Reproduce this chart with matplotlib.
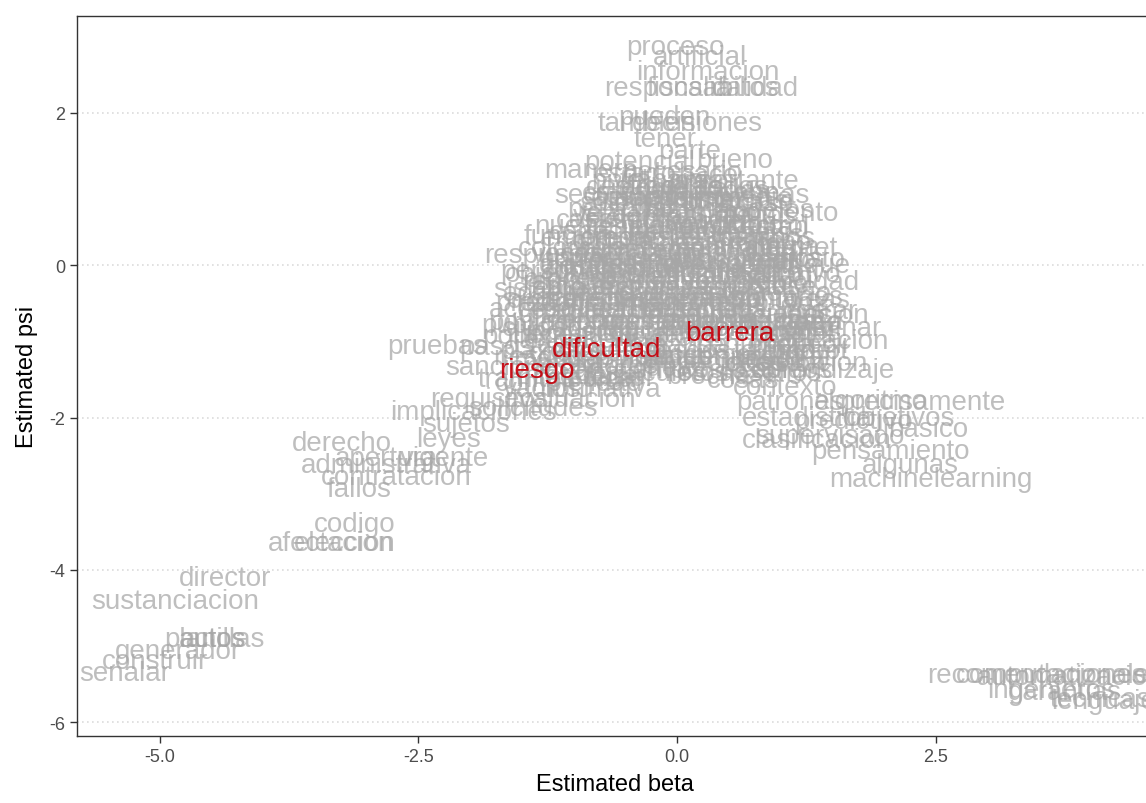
import numpy as np
import matplotlib
matplotlib.use("Agg")
import matplotlib.pyplot as plt

#------------------------------------------------------------------------------
# Palabras sobre el pico (psi alto)
top_words = ["proceso", "artificial", "informacion", "responsabilidad",
             "fiscalia", "datos", "tambien", "pueden", "decisiones", "tener",
             "parte", "potencial", "bueno", "manera", "estado", "importante",
             "necesario", "hace", "trabajo"]
top_beta = [-0.02, 0.22, 0.30, 0.23, 0.12, 0.66, -0.29, -0.12, 0.20, -0.12,
            0.12, -0.36, 0.56, -0.83, -0.40, 0.54, 0.05, 0.30, -0.15]
top_psi = [2.86, 2.73, 2.54, 2.32, 2.32, 2.32, 1.86, 1.95, 1.86, 1.65,
           1.50, 1.36, 1.38, 1.25, 1.20, 1.11, 1.22, 1.18, 1.12]

# Nucleo superior
upper_words = ["gestion", "gobierno", "entidades", "sector", "tiempo",
               "hacer", "forma", "sistemas", "temas", "personal", "uso",
               "publica", "mejor", "modelos", "casos", "ejemplo",
               "tecnologia", "servicios", "control", "conocimiento", "manejo",
               "herramientas", "analisis", "funcion", "cultura", "capacidad",
               "desarrollo", "equipo"]
upper_beta = [-0.45, -0.02, 0.32, -0.82, -0.40, -0.08, 0.22, 0.55, 0.92,
              -0.55, -0.22, 0.10, 0.45, 0.82, -0.82, -0.42, 0.05, 0.45, 0.88,
              -0.45, -0.05, 0.32, 0.78, -1.05, -0.62, -0.18, 0.42, 0.90]
upper_psi = [1.03, 1.00, 0.98, 0.92, 0.88, 0.90, 0.86, 0.84, 0.92, 0.74,
             0.76, 0.72, 0.70, 0.73, 0.59, 0.60, 0.58, 0.56, 0.52, 0.44,
             0.46, 0.42, 0.40, 0.38, 0.32, 0.30, 0.28, 0.30]

# Nucleo central
mid_words = ["innovacion", "implementacion", "estrategia", "respuesta",
             "usuarios", "ciudadanos", "plataforma", "credito", "personas",
             "mundo", "digital", "problema", "calidad", "procesos", "normas",
             "regulacion", "entidad", "sistema", "proyecto", "confianza",
             "inversion", "posible", "recursos", "transparencia", "problemas",
             "etica", "humanos", "acceso", "politica", "resultados",
             "beneficios", "entrar"]
mid_beta = [-0.50, 0.20, 0.80, -1.28, -0.78, -0.18, 0.45, 0.95, -1.16,
            -0.70, -0.32, 0.10, 0.55, -0.95, -0.42, 0.25, 0.88, -1.32, -0.75,
            -0.25, 0.30, 0.85, -0.95, -0.45, 0.02, 0.55, 1.05, -1.40, -0.90,
            -0.30, 0.25, 1.40]
mid_psi = [0.20, 0.18, 0.24, 0.13, 0.10, 0.06, 0.04, 0.05, -0.08, -0.04,
           -0.06, -0.05, -0.08, -0.18, -0.16, -0.15, -0.16, -0.31, -0.30,
           -0.28, -0.30, -0.26, -0.43, -0.44, -0.42, -0.44, -0.42, -0.58,
           -0.58, -0.57, -0.58, -0.60]

# Nucleo inferior
low_words = ["publico", "eficiencia", "presupuesto", "automatizar", "humano",
             "eliminar", "politicas", "experiencia", "mejora", "usar",
             "aplicacion", "pruebas", "pasos", "costos", "fuentes",
             "documentos", "poder", "sanciones", "errores", "idea",
             "decision", "aprendizaje", "tramites", "medida", "cosas",
             "contexto", "requisitos", "evaluacion", "solicitudes",
             "implicaciones", "sujetos"]
low_beta = [-1.47, -0.55, 0.00, 0.60, 1.10, 1.51, -1.40, -0.80, -0.25, 0.95,
            1.45, -2.32, -1.75, -1.05, -0.10, 0.50, 1.24, -1.64, -0.60, -0.10,
            0.95, 1.41, -1.45, -0.85, 0.64, 1.04, -1.81, -1.03, -1.39, -1.97,
            -2.04]
low_psi = [-0.78, -0.72, -0.74, -0.72, -0.76, -0.83, -0.93, -0.98, -0.96,
           -0.98, -1.00, -1.06, -1.08, -1.15, -1.20, -1.18, -1.13, -1.34,
           -1.32, -1.35, -1.30, -1.38, -1.50, -1.50, -1.51, -1.60, -1.76,
           -1.76, -1.88, -1.93, -2.09]

# Relleno del nucleo (palabras apiladas, casi ilegibles)
fill_words = ["nivel", "area", "estos", "puede", "debe", "solo", "mucho",
              "bien", "caso", "tema", "ideas", "tipo", "momento", "nuevas",
              "nuevo", "mayor", "cambio", "empresa", "empresas", "proyectos",
              "pais", "anos", "colombia", "toma", "software", "internet",
              "norma", "privacidad", "error", "funcionarios", "contrato",
              "costo", "infraestructura", "objetivo", "planeacion",
              "lineamientos", "documento", "archivo", "registro", "base",
              "bases", "volumen", "velocidad", "acuerdo", "realidad",
              "practica", "ventaja", "beneficio", "prediccion",
              "reconocimiento", "imagenes", "texto", "voz", "chatbot",
              "asistente", "preguntas", "peticiones", "atencion",
              "ciudadania", "vigilancia", "auditoria", "contraloria", "juez",
              "jueces", "justicia", "rama", "judicial", "tutela", "demanda",
              "sentencia", "predecir", "riesgos", "clasificar", "entrenar",
              "mejorar", "falta", "limitaciones", "adopcion", "obstaculos",
              "retos", "desafios", "complejidad", "temor"]
fill_beta = [-0.55, 0.20, -0.60, 0.05, 0.70, -0.70, -0.15, 0.30, 0.85,
             -0.65, -0.05, 0.60, 1.00, -0.95, -0.20, 0.20, 0.60, -0.80,
             -0.35, 0.10, 0.65, 1.05, -1.00, -0.10, 0.50, 1.10, -0.95,
             -0.45, 0.10, 0.70, 1.15, -0.95, 0.35, -1.20, -0.65, 0.00, 0.55,
             1.15, -1.05, -0.45, 0.10, 0.55, 1.20, -1.20, -0.60, -0.10, 0.45,
             0.95, -1.15, -0.65, 0.00, 0.60, 1.25, -1.10, -0.30, 0.30, 0.90,
             1.35, -1.05, -0.15, 0.30, 0.85, 1.30, -1.25, -0.50, 0.10, 1.10,
             -1.10, -0.05, 0.75, 1.20, -1.35, -0.55, 0.25, 1.05, -0.95, 0.35,
             1.30, -0.35, 0.20, 0.90, -1.05, -0.55]
fill_psi = [1.10, 1.10, 0.95, 0.95, 0.95, 0.82, 0.82, 0.82, 0.82, 0.68,
            0.68, 0.68, 0.68, 0.52, 0.52, 0.52, 0.52, 0.36, 0.36, 0.36, 0.36,
            0.36, 0.22, 0.22, 0.22, 0.22, 0.08, 0.08, 0.08, 0.08, 0.08,
            -0.02, -0.02, -0.12, -0.12, -0.12, -0.12, -0.12, -0.22, -0.22,
            -0.22, -0.22, -0.22, -0.36, -0.36, -0.36, -0.36, -0.36, -0.50,
            -0.50, -0.50, -0.50, -0.50, -0.66, -0.66, -0.66, -0.66, -0.66,
            -0.82, -0.82, -0.82, -0.82, -0.82, -0.92, -0.92, -0.92, -0.92,
            -1.05, -1.05, -1.05, -1.05, -1.20, -1.20, -1.20, -1.20, -1.28,
            -1.28, -1.28, -1.42, -1.42, -1.42, -1.55, -1.48]

# Segunda capa de relleno, entre filas
fill2_words = ["otros", "otras", "todos", "cosa", "pueda", "mismo", "muy",
               "medio", "vez", "dentro", "ahora", "menos", "tiene", "tienen",
               "hay", "estan", "veces", "formas", "poco", "hecho", "lugar",
               "grandes", "partes", "cuenta", "senal", "enfoque", "ambito",
               "apoyo", "valor", "accion", "fase", "orden", "efecto", "papel",
               "impacto", "punto", "tareas", "etapa", "salud", "pension",
               "ley", "bancos", "poblacion", "medios", "nacional", "entorno",
               "operacion", "tarea", "inclusion", "economia", "cadena",
               "redes", "plazo", "sesgo", "sesgos", "talento", "robot",
               "manual", "barreras", "limites", "nube", "carga", "lento",
               "costoso", "codigos", "miedo", "legal", "brecha", "vacios",
               "normativa"]
fill2_beta = [-0.30, 0.15, 0.55, -0.55, -0.25, 0.10, 0.40, 0.75, -0.80,
              -0.25, 0.25, 0.75, -0.60, -0.05, 0.45, 0.95, -1.05, -0.55,
              -0.05, 0.40, 0.95, -0.85, -0.30, 0.25, 0.80, 1.20, -1.00,
              -0.45, 0.05, 0.60, 1.10, -1.30, -0.75, -0.15, 0.35, 0.85, 1.30,
              -1.10, -0.45, 0.00, 0.55, 1.00, -1.25, -0.80, -0.25, 0.30, 0.85,
              1.30, -0.95, -0.35, 0.80, 1.25, -1.40, -0.45, 0.10, 0.95, 1.35,
              -1.15, -0.30, 0.55, 0.95, -0.80, -0.20, 0.50, 1.05, -1.20,
              -0.60, 0.30, -1.30, -0.75]
fill2_psi = [1.02, 1.02, 1.02, 0.88, 0.88, 0.88, 0.88, 0.88, 0.65, 0.65,
             0.65, 0.65, 0.50, 0.50, 0.50, 0.50, 0.15, 0.15, 0.15, 0.15,
             0.15, 0.00, 0.00, 0.00, 0.00, 0.00, -0.28, -0.28, -0.28, -0.28,
             -0.28, -0.46, -0.46, -0.46, -0.46, -0.46, -0.46, -0.60, -0.60,
             -0.60, -0.60, -0.60, -0.74, -0.74, -0.74, -0.74, -0.74, -0.74,
             -0.88, -0.88, -0.88, -0.88, -1.12, -1.12, -1.12, -1.12, -1.12,
             -1.25, -1.25, -1.25, -1.25, -1.38, -1.38, -1.38, -1.38, -1.45,
             -1.45, -1.45, -1.62, -1.62]

# Cola izquierda
left_words = ["leyes", "derecho", "apertura", "vigente", "administrativa",
              "contratacion", "fallos", "codigo", "afectacion", "eleccion",
              "director", "sustanciacion", "planillas", "autos", "actos",
              "generador", "construir", "senalar"]
left_beta = [-2.21, -3.24, -2.81, -2.25, -2.81, -2.71, -3.07, -3.12, -3.35,
             -3.21, -4.37, -4.85, -4.47, -4.49, -4.49, -4.82, -5.05, -5.34]
left_psi = [-2.28, -2.33, -2.53, -2.53, -2.62, -2.78, -2.94, -3.40, -3.65,
            -3.65, -4.10, -4.41, -4.90, -4.90, -4.90, -5.06, -5.19, -5.35]

# Cola derecha
right_words = ["patrones", "algoritmo", "precisamente", "estadistica",
               "objetivos", "predictivo", "basico", "supervisado",
               "clasificacion", "pensamiento", "algunas", "machinelearning"]
right_beta = [1.09, 1.87, 2.37, 1.26, 2.16, 1.70, 2.43, 1.48, 1.35, 2.06,
              2.25, 2.45]
right_psi = [-1.80, -1.78, -1.80, -2.00, -2.00, -2.05, -2.15, -2.24, -2.30,
             -2.44, -2.62, -2.81]

# Extremo inferior derecho
corner_words = ["recomendaciones", "computacionales", "automatizacion",
                "ingenieros", "garantias", "lenguajes", "tecnicas"]
corner_beta = [3.47, 3.70, 3.80, 3.61, 3.75, 4.19, 4.09]
corner_psi = [-5.38, -5.38, -5.40, -5.57, -5.60, -5.72, -5.70]

# Palabras resaltadas
red_words = ["riesgo", "dificultad", "barrera"]
red_beta = [-1.36, -0.68, 0.51]
red_psi = [-1.38, -1.10, -0.89]

#------------------------------------------------------------------------------
def plot_words(ax, words, beta, psi, color, alpha):
    for w, b, p in zip(words, beta, psi):
        ax.text(b, p, w, color=color, alpha=alpha, fontsize=20,
                ha="center", va="center", clip_on=True)

#------------------------------------------------------------------------------
def main():
    plt.rcParams["font.family"] = ["Liberation Sans", "DejaVu Sans"]
    plt.rcParams["axes.unicode_minus"] = False

    fig = plt.figure(figsize=(11.46, 8.04), dpi=100)
    ax = fig.add_axes([0.0672, 0.0833, 0.939, 0.8955])

    # Grupos de palabras en gris
    grey = "#a6a6a6"
    groups = [(top_words, top_beta, top_psi),
              (upper_words, upper_beta, upper_psi),
              (mid_words, mid_beta, mid_psi),
              (low_words, low_beta, low_psi),
              (fill_words, fill_beta, fill_psi),
              (fill2_words, fill2_beta, fill2_psi),
              (left_words, left_beta, left_psi),
              (right_words, right_beta, right_psi),
              (corner_words, corner_beta, corner_psi)]
    for words, beta, psi in groups:
        plot_words(ax, words, beta, psi, grey, 0.72)

    # Palabras clave en rojo
    plot_words(ax, red_words, red_beta, red_psi, "#c4000a", 0.92)

    # Ejes
    ax.set_xlim(-5.80, 4.60)
    ax.set_ylim(-6.18, 3.27)
    ax.set_xticks([-5.0, -2.5, 0.0, 2.5])
    ax.set_xticklabels(["-5.0", "-2.5", "0.0", "2.5"])
    ax.set_yticks([-6, -4, -2, 0, 2])

    # Lineas de cuadricula punteadas
    ax.yaxis.grid(True, linestyle=(0, (1, 2)), color="#dcdcdc", linewidth=1.2)
    ax.set_axisbelow(True)

    for side in ax.spines.values():
        side.set_color("#333333")
        side.set_linewidth(1.0)
    ax.tick_params(axis="both", colors="#333333", length=5, width=1,
                   labelsize=13, labelcolor="#4d4d4d")

    ax.set_xlabel("Estimated beta", fontsize=17, color="black", labelpad=6)
    ax.set_ylabel("Estimated psi", fontsize=17, color="black", labelpad=8)

    fig.savefig("out.png", dpi=100)


if __name__ == "__main__":
    main()
